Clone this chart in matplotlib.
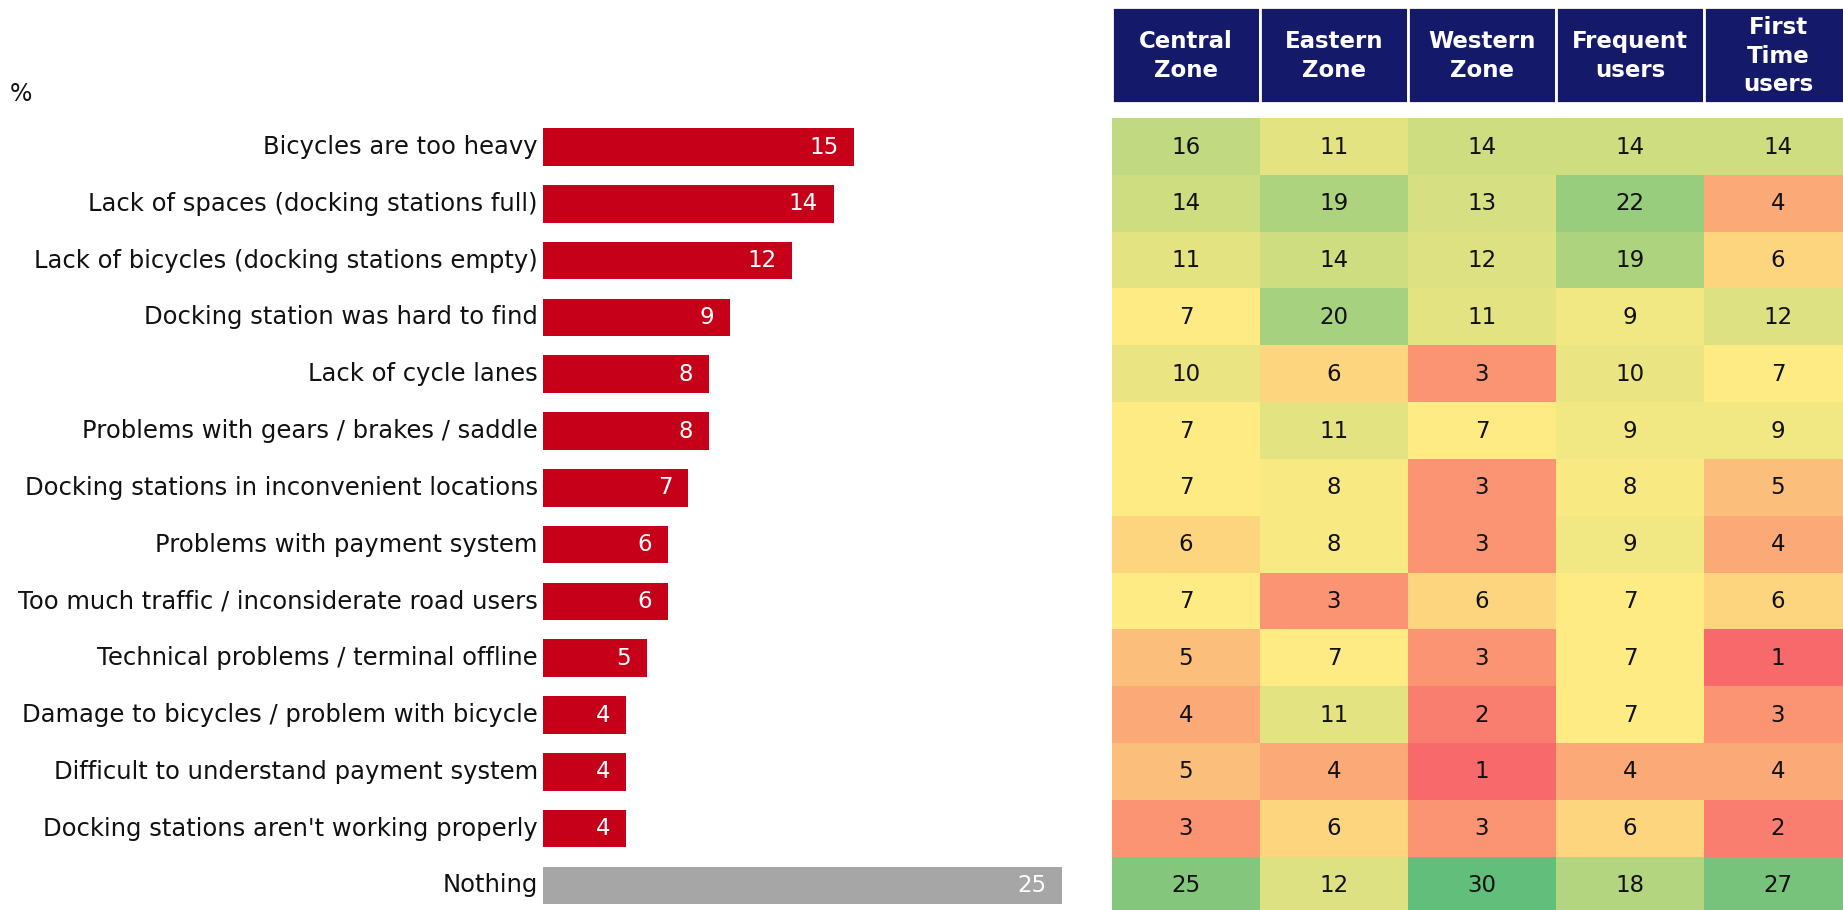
import matplotlib.pyplot as plt
from matplotlib.patches import Rectangle
import numpy as np

categories = [
    "Bicycles are too heavy",
    "Lack of spaces (docking stations full)",
    "Lack of bicycles (docking stations empty)",
    "Docking station was hard to find",
    "Lack of cycle lanes",
    "Problems with gears / brakes / saddle",
    "Docking stations in inconvenient locations",
    "Problems with payment system",
    "Too much traffic / inconsiderate road users",
    "Technical problems / terminal offline",
    "Damage to bicycles / problem with bicycle",
    "Difficult to understand payment system",
    "Docking stations aren't working properly",
    "Nothing",
]
total = [15, 14, 12, 9, 8, 8, 7, 6, 6, 5, 4, 4, 4, 25]

groups = ["Central\nZone", "Eastern\nZone", "Western\nZone", "Frequent\nusers", "First\nTime\nusers"]
central = [16, 14, 11, 7, 10, 7, 7, 6, 7, 5, 4, 5, 3, 25]
eastern = [11, 19, 14, 20, 6, 11, 8, 8, 3, 7, 11, 4, 6, 12]
western = [14, 13, 12, 11, 3, 7, 3, 3, 6, 3, 2, 1, 3, 30]
frequent = [14, 22, 19, 9, 10, 9, 8, 9, 7, 7, 7, 4, 6, 18]
first_time = [14, 4, 6, 12, 7, 9, 5, 4, 6, 1, 3, 4, 2, 27]

W, H = 1843, 910
fig = plt.figure(figsize=(W / 100, H / 100), dpi=100)

# row geometry in pixels (row centres)
row0, step = 147, 56.8
ytop = -row0 / step
ybot = (H - row0) / step
n = len(categories)
rows = np.arange(n)

# ---- bar chart ----
px_unit = 20.75
bx0 = 543
ax = fig.add_axes([bx0 / W, 0, (1100 - bx0) / W, 1])
ax.set_xlim(0, (1100 - bx0) / px_unit)
ax.set_ylim(ybot, ytop)
colors = ["#C50018"] * (n - 1) + ["#A6A6A6"]
ax.barh(rows, total, height=0.66, color=colors)
for y, v in zip(rows, total):
    ax.text(v - 0.75, y, str(v), ha="right", va="center", color="white", fontsize=16.5)
for y, c in zip(rows, categories):
    ax.text(-0.25, y, c, ha="right", va="center", color="#111111", fontsize=17.5,
            clip_on=False)
ax.axis("off")
fig.text(10 / W, 1 - 94 / H, "%", fontsize=17, va="center", ha="left", color="#111111")

# ---- heatmap table ----
cw = 148
hx0 = 1112
axh = fig.add_axes([hx0 / W, 0, (W - hx0) / W, 1])
axh.axis("off")

table = np.array([central, eastern, western, frequent, first_time]).T
vmin, vmax, vmid = table.min(), table.max(), np.percentile(table, 50)
c_lo = np.array([0xF8, 0x69, 0x6B]) / 255
c_mid = np.array([0xFF, 0xEB, 0x84]) / 255
c_hi = np.array([0x63, 0xBE, 0x7B]) / 255


def scale(v):
    if v <= vmid:
        t = (v - vmin) / (vmid - vmin)
        return c_lo + (c_mid - c_lo) * t
    t = (v - vmid) / (vmax - vmid)
    return c_mid + (c_hi - c_mid) * t


rgb = np.array([[scale(v) for v in r] for r in table])
axh.imshow(rgb, extent=(0, table.shape[1], n - 0.5, -0.5), aspect="auto",
           interpolation="nearest")
axh.set_xlim(0, (W - hx0) / cw)
axh.set_ylim(ybot, ytop)
for i in range(n):
    for j in range(table.shape[1]):
        axh.text(j + 0.5, i, str(table[i, j]), ha="center", va="center",
                 fontsize=16.5, color="#111111")

# header boxes
htop = (7 - row0) / step
hbot = (103 - row0) / step
for j, g in enumerate(groups):
    axh.add_patch(Rectangle((j, hbot), 1, htop - hbot, facecolor="#15196A",
                            edgecolor="white", linewidth=2))
    axh.text(j + 0.5, (htop + hbot) / 2 + 0.02, g, ha="center", va="center", color="white",
             fontsize=16.5, fontweight="bold", linespacing=1.3)

fig.savefig("out.png", dpi=100)
